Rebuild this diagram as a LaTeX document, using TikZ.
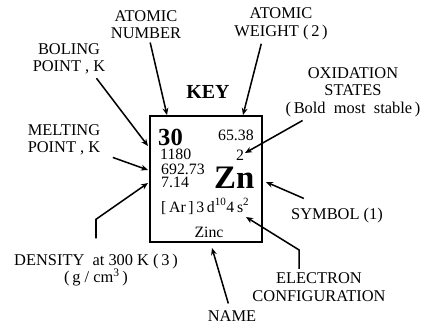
\documentclass[tikz,border=0pt]{standalone}
\usepackage{fontspec}
\setmainfont{Liberation Serif}
\usepackage{tikz}
\usetikzlibrary{arrows.meta, positioning, calc}

\begin{document}
\begin{tikzpicture}[x=0.03cm, y=-0.03cm,
  lbl/.style={font=\fontsize{14pt}{15pt}\selectfont,
    align=center, inner sep=3pt},
  val/.style={font=\fontsize{13.5pt}{14.5pt}\selectfont, inner sep=0pt},
  keybox/.style={rectangle, draw, line width=1.7pt,
    minimum width=3.36cm, minimum height=3.78cm, inner sep=0pt},
  arr/.style={-{Stealth[length=6pt, width=5pt]}, line width=1.3pt}
]
\useasboundingbox (0,0) rectangle (422,324);
\node[keybox] at (206,179) (box) {};
\node[font=\fontsize{17pt}{18pt}\selectfont\bfseries, inner sep=0pt,
      anchor=base] at (208,98) (key) {KEY};
\node[val, anchor=base west, font=\fontsize{21pt}{22pt}\selectfont\bfseries]
      at (158,145) (anr) {30};
\node[val, anchor=base west] at (160,159.5) (bp)   {1180};
\node[val, anchor=base west] at (161,174.5) (mp)   {692.73};
\node[val, anchor=base west] at (161,187)   (dn)   {7.14};
\node[val, anchor=base east] at (254,140)   (aw)   {65.38};
\node[val, anchor=base]      at (240,160)   (ox)   {2};
\node[val, anchor=base west, font=\fontsize{28pt}{29pt}\selectfont\bfseries]
      at (214,188) (sy) {Zn};
\node[val, anchor=base west] at (161,212)   (ec)
      {[\,Ar\,]\,3\,d\textsuperscript{10}4\,s\textsuperscript{2}};
\node[val, anchor=base]      at (209,237)   (nm)   {Zinc};
\node[lbl] at (146,24.5) (anum)  {ATOMIC\\NUMBER};
\node[lbl] at (69,59)    (boil)  {BOLING\\POINT , K};
\node[lbl] at (64,140)   (melt)  {MELTING\\POINT , K};
\node[lbl] at (96,270)   (dens)  {DENSITY~~at 300 K (\,3\,)\\(\,g / cm\textsuperscript{3}\,)};
\node[lbl] at (281,24)   (awt)   {ATOMIC\\WEIGHT (\,2\,)};
\node[lbl] at (353,92)   (oxid)  {OXIDATION\\STATES\\(\,Bold~~most~~stable\,)};
\node[lbl] at (337,215.5) (sym)  {SYMBOL (1)};
\node[lbl] at (319,287)  (econf) {ELECTRON\\CONFIGURATION};
\node[lbl] at (232,316)  (name)  {NAME};
\coordinate (tnum)  at (167,115);
\coordinate (tboil) at (148,146);
\coordinate (tmelt) at (148,170);
\coordinate (tdens) at (148,183);
\coordinate (tawt)  at (243,115);
\coordinate (tox)   at (245,153);
\coordinate (tsym)  at (266,182);
\coordinate (tconf) at (246,217);
\coordinate (tname) at (212,248);
\draw[arr] (anum) -- (tnum);
\draw[arr] (boil.-35) -- (tboil);
\draw[arr, shorten <=8pt] (melt) -- (tmelt);
\draw[arr] ([xshift=0pt, yshift=10pt]dens.north) -- ++(0,-19) -- (tdens);
\draw[arr] (awt.225) -- (tawt);
\draw[arr] (oxid) -- (tox);
\draw[arr] ([xshift=14pt, yshift=5pt]sym.north west) -- (tsym);
\draw[arr] ([xshift=-17pt]econf.north) -- ++(0,-19) -- (tconf);
\draw[arr, shorten <=3pt] (name) -- (tname);
\end{tikzpicture}
\end{document}
